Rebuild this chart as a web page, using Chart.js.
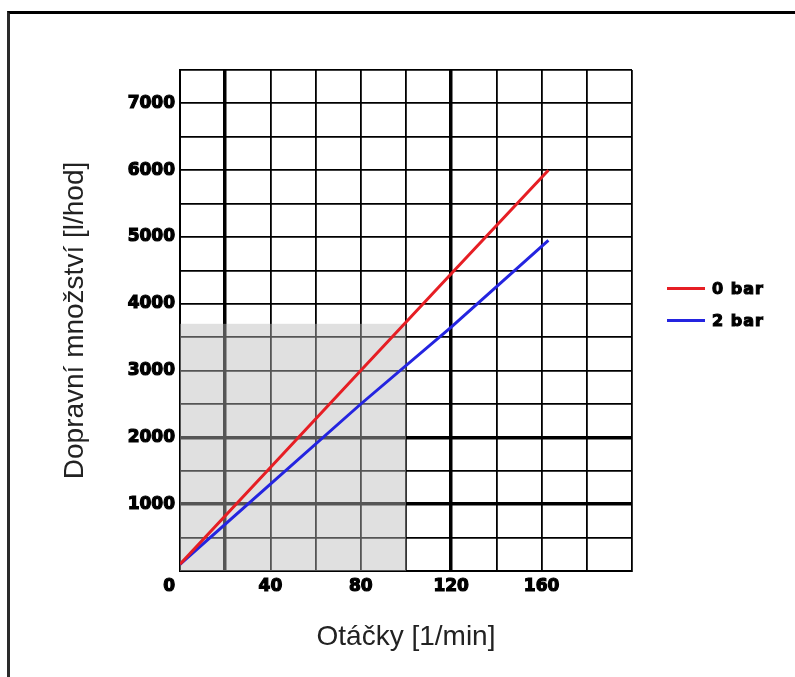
<!DOCTYPE html>
<html><head><meta charset="utf-8">
<script src="https://cdn.jsdelivr.net/npm/chart.js@4.4.0/dist/chart.umd.min.js"></script>
<style>
html,body{margin:0;padding:0;background:#fff;}
#wrap{position:relative;width:795px;height:677px;overflow:hidden;background:#fff;}
#frame{position:absolute;left:7px;top:11px;right:-10px;bottom:-10px;border-top:3px solid #000;border-left:3px solid #2a2a2a;pointer-events:none;}
canvas{display:block}
</style></head><body>
<div id="wrap"><canvas id="c" width="795" height="677"></canvas><div id="frame"></div></div>
<script>
// ---- data ----
const speeds    = [0, 40, 80, 120, 163];
const flow0bar  = [100, 1550, 3000, 4450, 6000];
const flow2bar  = [100, 1300, 2500, 3650, 4950];
const seriesLabels = ['0 bar', '2 bar'];
const xTickLabels = [40, 80, 120, 160];
const yTickLabels = [1000, 2000, 3000, 4000, 5000, 6000, 7000];
const thickX = [20, 120];
const thickY = [1000, 2000];
const shadedX = [0, 100];
const shadedY = [0, 3700];
const xTitle = 'Otáčky [1/min]';
const yTitle = 'Dopravní množství [l/hod]';

const colors = ['#e61e24', '#2424e0'];
const tickFont = {family: '"DejaVu Sans", Verdana, sans-serif', size: 17, weight: 'bold', lineHeight: 1.2};
const titleFont = {family: '"Liberation Sans", Arial, sans-serif', size: 28, weight: 'normal', lineHeight: 1.2};
const TICK_PAD = 5;

const shadePlugin = {
  id: 'shade',
  beforeDatasetsDraw(chart) {
    const {ctx, scales: {x, y}} = chart;
    const l = x.getPixelForValue(shadedX[0]), r = x.getPixelForValue(shadedX[1]);
    const t = y.getPixelForValue(shadedY[1]), b = y.getPixelForValue(shadedY[0]);
    ctx.save();
    ctx.fillStyle = 'rgba(187,187,187,0.455)';
    ctx.fillRect(l, t, r - l, b - t);
    ctx.restore();
  }
};

const extrasPlugin = {
  id: 'extras',
  afterDraw(chart) {
    const {ctx, chartArea, scales: {x, y}} = chart;
    ctx.save();
    // shared zero label
    ctx.font = `${tickFont.weight} ${tickFont.size}px ${tickFont.family}`;
    ctx.fillStyle = '#000';
    ctx.strokeStyle = '#000';
    ctx.lineWidth = 1.2;
    ctx.textAlign = 'right';
    ctx.textBaseline = 'middle';
    const zx = y.right - TICK_PAD, zy = x.top + TICK_PAD + tickFont.size * tickFont.lineHeight / 2;
    ctx.strokeText('0', zx, zy);
    ctx.fillText('0', zx, zy);
    // legend
    const cy = (chartArea.top + chartArea.bottom) / 2;
    const lx = chartArea.right + 35;
    chart.data.datasets.forEach((ds, i) => {
      const yy = cy - 32 + i * 32;
      ctx.strokeStyle = ds.borderColor;
      ctx.lineWidth = 3;
      ctx.beginPath();
      ctx.moveTo(lx, yy);
      ctx.lineTo(lx + 38, yy);
      ctx.stroke();
      ctx.font = `bold 16px ${tickFont.family}`;
      ctx.letterSpacing = '1px';
      ctx.textAlign = 'left';
      ctx.fillStyle = '#000';
      ctx.strokeStyle = '#000';
      ctx.lineWidth = 1.1;
      ctx.strokeText(ds.label, lx + 45, yy + 1);
      ctx.fillText(ds.label, lx + 45, yy + 1);
    });
    ctx.restore();
  }
};

const toPoints = (xs, ys) => xs.map((v, i) => ({x: v, y: ys[i]}));

new Chart(document.getElementById('c'), {
  type: 'scatter',
  data: {
    datasets: [
      {label: seriesLabels[0], data: toPoints(speeds, flow0bar), borderColor: colors[0], backgroundColor: colors[0]},
      {label: seriesLabels[1], data: toPoints(speeds, flow2bar), borderColor: colors[1], backgroundColor: colors[1]}
    ].map(d => Object.assign(d, {showLine: true, pointRadius: 0, borderWidth: 3, tension: 0, fill: false}))
  },
  options: {
    responsive: false,
    animation: false,
    devicePixelRatio: 1,
    layout: {padding: {left: 0, top: 70, right: 163, bottom: 0}},
    plugins: {legend: {display: false}, tooltip: {enabled: false}},
    scales: {
      x: {
        type: 'linear', min: 0, max: 200,
        afterFit(s) { s.height = 106; },
        ticks: {
          stepSize: 20, autoSkip: false, maxRotation: 0, padding: TICK_PAD,
          color: '#000', font: tickFont, textStrokeColor: '#000', textStrokeWidth: 1.2,
          callback: v => xTickLabels.includes(v) ? String(v) : ''
        },
        grid: {
          drawTicks: false,
          color: '#000',
          lineWidth: c => thickX.includes(c.tick && c.tick.value) ? 3.5 : 1.8
        },
        border: {display: true, color: '#000', width: 2},
        title: {display: true, text: xTitle, color: '#222', font: titleFont, padding: {top: 0, bottom: 23}}
      },
      y: {
        type: 'linear', min: 0, max: 7500,
        afterFit(s) { s.width = 180; },
        ticks: {
          stepSize: 500, autoSkip: false, padding: TICK_PAD,
          color: '#000', font: tickFont, textStrokeColor: '#000', textStrokeWidth: 1.2,
          callback: v => yTickLabels.includes(v) ? String(v) : ''
        },
        grid: {
          drawTicks: false,
          color: '#000',
          lineWidth: c => thickY.includes(c.tick && c.tick.value) ? 3.5 : 1.8
        },
        border: {display: true, color: '#000', width: 2},
        title: {display: true, text: yTitle, color: '#222', font: titleFont, padding: {top: 58, bottom: 0}}
      }
    }
  },
  plugins: [shadePlugin, extrasPlugin]
});
</script>
</body></html>
